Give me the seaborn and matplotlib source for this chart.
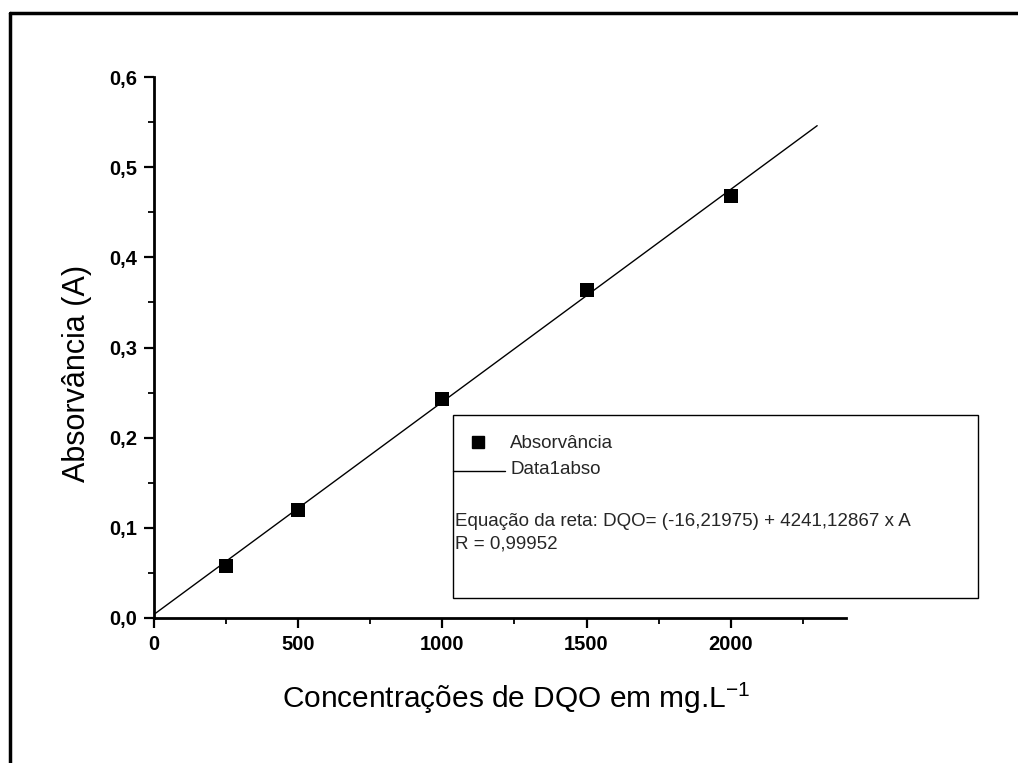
import matplotlib
matplotlib.use("Agg")
import matplotlib.pyplot as plt
import seaborn as sns
import pandas as pd
from matplotlib.lines import Line2D
from matplotlib.patches import Rectangle
from matplotlib.ticker import MultipleLocator, FuncFormatter

concentracao = [250, 500, 1000, 1500, 2000]
absorvancia = [0.058, 0.120, 0.243, 0.364, 0.468]
fit_x = [0, 2300]
fit_y = [0.004, 0.546]
x_ticks = [0, 500, 1000, 1500, 2000]
y_ticks = [0.0, 0.1, 0.2, 0.3, 0.4, 0.5, 0.6]

sns.set_theme(style="ticks")
plt.rcParams['font.family'] = ['Liberation Sans', 'DejaVu Sans']

W, H = 1018, 763
fig = plt.figure(figsize=(W / 100, H / 100), dpi=100)
ax = fig.add_axes([154 / W, 1 - 618 / H, 692 / W, 541 / H])

df_pts = pd.DataFrame({"x": concentracao, "y": absorvancia})
df_fit = pd.DataFrame({"x": fit_x, "y": fit_y})

sns.lineplot(data=df_fit, x="x", y="y", ax=ax, color="black", linewidth=1.0, label=None)
sns.scatterplot(data=df_pts, x="x", y="y", ax=ax, marker="s", s=88, color="black",
                edgecolor="black", linewidth=0, zorder=5)

ax.set_xlim(0, 2400)
ax.set_ylim(0, 0.6)
ax.set_xticks(x_ticks)
ax.set_yticks(y_ticks)
ax.xaxis.set_minor_locator(MultipleLocator(250))
ax.yaxis.set_minor_locator(MultipleLocator(0.05))
ax.yaxis.set_major_formatter(FuncFormatter(lambda v, p: f"{v:.1f}".replace(".", ",")))
ax.xaxis.set_major_formatter(FuncFormatter(lambda v, p: f"{int(v)}"))

for s in ["top", "right"]:
    ax.spines[s].set_visible(False)
for s in ["left", "bottom"]:
    ax.spines[s].set_linewidth(2.0)
    ax.spines[s].set_color("black")

ax.tick_params(which="major", direction="out", length=7, width=1.6, color="black",
               labelsize=14.5, pad=5, labelcolor="black")
ax.tick_params(which="minor", direction="out", length=4.5, width=1.3, color="black")
for lab in ax.get_xticklabels() + ax.get_yticklabels():
    lab.set_fontweight("bold")

ax.set_xlabel("Concentrações de DQO em mg.L$^{\\mathregular{-1}}$", fontsize=21.5,
              color="black", va="baseline")
ax.set_ylabel("Absorvância (A)", fontsize=22, color="black")
ax.xaxis.set_label_coords((516 - 154) / 692, (618 - 708) / 541)
ax.yaxis.set_label_coords((92 - 154) / 692, (618 - 373) / 541)
ax.grid(False)

# legend box
bx0, by0, bx1, by1 = 453, 415, 978, 598
fig.patches.append(Rectangle((bx0 / W, 1 - by1 / H), (bx1 - bx0) / W, (by1 - by0) / H,
                             transform=fig.transFigure, fill=True, facecolor="white",
                             edgecolor="black", linewidth=1.0, zorder=10))
fig.add_artist(Line2D([478 / W], [1 - 442 / H], marker="s", markersize=8, color="black",
                      linestyle="none", transform=fig.transFigure, zorder=11))
fig.add_artist(Line2D([453 / W, 505 / W], [1 - 471 / H, 1 - 471 / H], color="black",
                      linewidth=1.0, transform=fig.transFigure, zorder=11))
fs = 13.5
fig.text(510 / W, 1 - 443 / H, "Absorvância", fontsize=fs, va="center", ha="left", zorder=11)
fig.text(510 / W, 1 - 470 / H, "Data1abso", fontsize=fs, va="center", ha="left", zorder=11)
fig.text(455 / W, 1 - 521 / H, "Equação da reta: DQO= (-16,21975) + 4241,12867 x A",
         fontsize=fs, va="center", ha="left", zorder=11)
fig.text(455 / W, 1 - 544 / H, "R = 0,99952", fontsize=fs, va="center", ha="left", zorder=11)

# outer frame
fig.add_artist(Line2D([10 / W, 1.0], [1 - 13 / H, 1 - 13 / H], color="black", linewidth=2.5,
                      transform=fig.transFigure))
fig.add_artist(Line2D([10 / W, 10 / W], [1 - 13 / H, 0.0], color="black", linewidth=2.5,
                      transform=fig.transFigure))

fig.savefig("out.png", dpi=100)
